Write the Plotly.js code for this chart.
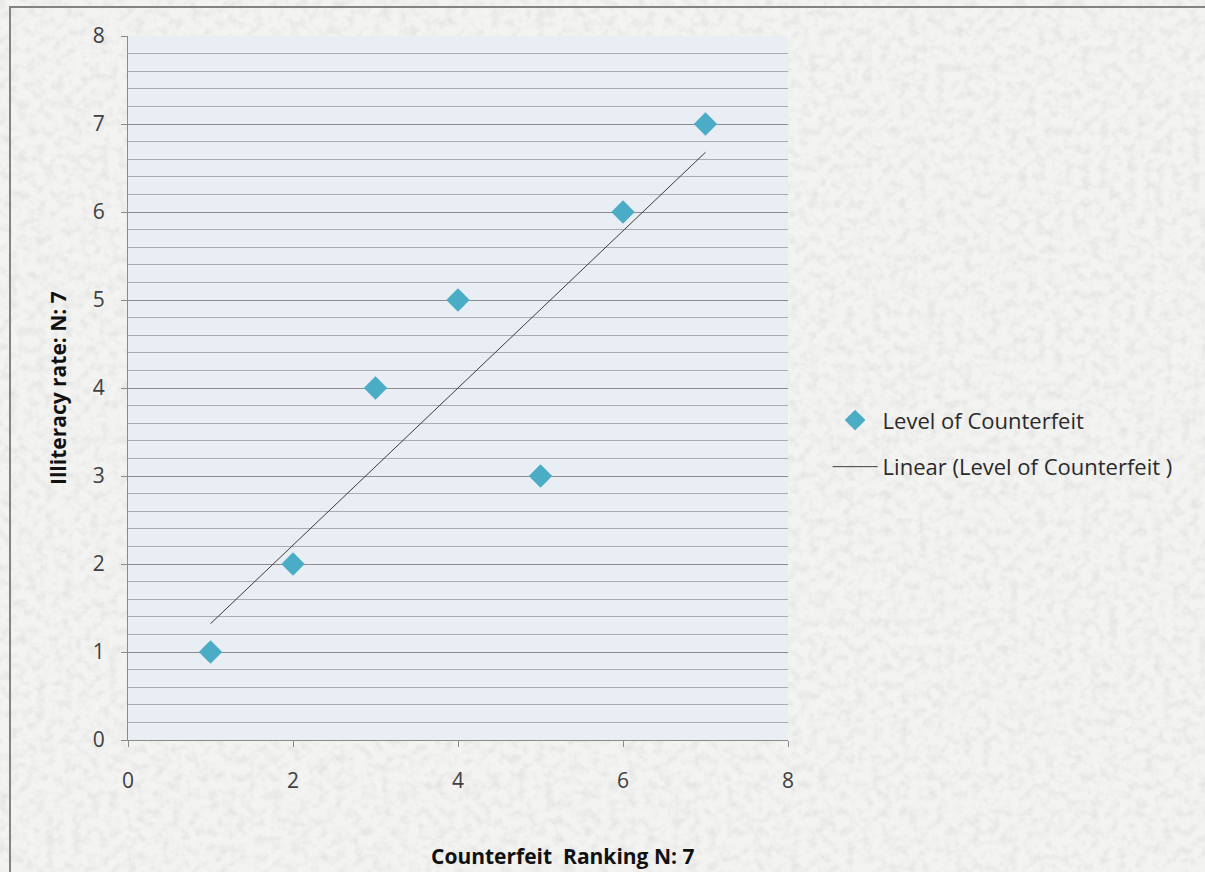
<!DOCTYPE html>
<html>
<head>
<meta charset="utf-8">
<script src="https://cdn.plot.ly/plotly-3.0.1.min.js"></script>
<style>
  html, body { margin: 0; padding: 0; width: 1205px; height: 872px; overflow: hidden; }
  #bg { position: absolute; left: 0; top: 0; width: 1205px; height: 872px; }
  #frame { position: absolute; left: 9px; top: 6px; width: 1300px; height: 1000px;
           border-left: 2px solid #838380; border-top: 2px solid #838380; box-sizing: border-box; }
  #chart { position: absolute; left: 0; top: 0; width: 1205px; height: 872px; }
</style>
</head>
<body>
<svg id="bg" xmlns="http://www.w3.org/2000/svg" width="1205" height="872">
  <filter id="grain" x="0" y="0" width="100%" height="100%">
    <feTurbulence type="fractalNoise" baseFrequency="0.11" numOctaves="3" seed="11" result="t"/>
    <feColorMatrix in="t" type="matrix"
      values="0 0 0 0 0.62  0 0 0 0 0.62  0 0 0 0 0.62  1.5 0 0 0 -0.62"/>
  </filter>
  <rect width="1205" height="872" fill="#f3f3f2"/>
  <rect width="1205" height="872" filter="url(#grain)" opacity="0.55"/>
</svg>
<div id="frame"></div>
<div id="chart"></div>
<script>
// Data
const counterfeitRanking = [1, 2, 3, 4, 5, 6, 7];
const illiteracyRate     = [1, 2, 4, 5, 3, 6, 7];
const seriesName = "Level of Counterfeit";
const trendName  = "Linear (Level of Counterfeit )";
const xTitle = "Counterfeit  Ranking N: 7";
const yTitle = "Illiteracy rate: N: 7";
const xTickVals  = [0, 2, 4, 6, 8];
const yTickVals  = [0, 1, 2, 3, 4, 5, 6, 7, 8];

// Least-squares linear trendline (as the spreadsheet's "Linear" trendline)
const n = counterfeitRanking.length;
const mx = counterfeitRanking.reduce((a, b) => a + b, 0) / n;
const my = illiteracyRate.reduce((a, b) => a + b, 0) / n;
let sxy = 0, sxx = 0;
for (let i = 0; i < n; i++) {
  sxy += (counterfeitRanking[i] - mx) * (illiteracyRate[i] - my);
  sxx += (counterfeitRanking[i] - mx) ** 2;
}
const slope = sxy / sxx, intercept = my - slope * mx;
const trendX = [Math.min(...counterfeitRanking), Math.max(...counterfeitRanking)];
const trendY = trendX.map(x => intercept + slope * x);

const traces = [
  {
    x: counterfeitRanking, y: illiteracyRate, type: "scatter", mode: "markers",
    name: seriesName, legendgroup: "a",
    marker: { symbol: "diamond", size: 18, color: "#4bacc6", line: { width: 0 } }
  },
  {
    x: trendX, y: trendY, type: "scatter", mode: "lines",
    name: trendName, legendgroup: "b",
    line: { color: "#3c3c3c", width: 1 }
  }
];

const font = "'Open Sans', 'DejaVu Sans', sans-serif";
const layout = {
  width: 1205, height: 872,
  paper_bgcolor: "rgba(0,0,0,0)",
  plot_bgcolor: "#e8eef3",
  margin: { l: 128, r: 417, t: 36, b: 132 },
  font: { family: font, color: "#404040", size: 21 },
  showlegend: true,
  legend: {
    x: 1.06, y: 0.484, xanchor: "left", yanchor: "top",
    bgcolor: "rgba(0,0,0,0)", font: { size: 22, color: "#2a2a2a", family: font },
    traceorder: "grouped", tracegroupgap: 15, itemwidth: 45
  },
  xaxis: {
    range: [0, 8], tickvals: xTickVals, ticktext: xTickVals.map(String),
    showgrid: false, zeroline: false,
    showline: true, linecolor: "#8a8a8a", linewidth: 1,
    ticks: "outside", ticklen: 6, tickcolor: "#8a8a8a", ticklabelstandoff: 16,
    tickfont: { size: 21, color: "#404040" },
    fixedrange: true
  },
  yaxis: {
    range: [0, 8], tickvals: yTickVals, ticktext: yTickVals.map(String),
    showgrid: true, gridcolor: "#8c8c8c", gridwidth: 1, zeroline: false,
    minor: { dtick: 0.2, showgrid: true, gridcolor: "#a9adb0", gridwidth: 1 },
    showline: true, linecolor: "#8a8a8a", linewidth: 1,
    ticks: "outside", ticklen: 6, tickcolor: "#8a8a8a", ticklabelstandoff: 12,
    tickfont: { size: 21, color: "#404040" },
    fixedrange: true
  },
  annotations: [
    { text: "<b>" + xTitle.replace("  ", "&nbsp; ") + "</b>", xref: "paper", yref: "paper",
      x: 0.659, y: -0.165, xanchor: "center", yanchor: "middle", showarrow: false,
      font: { size: 21, color: "#111111", family: font } },
    { text: "<b>" + yTitle + "</b>", xref: "paper", yref: "paper", textangle: -90,
      x: -0.106, y: 0.5, xanchor: "center", yanchor: "middle", showarrow: false,
      font: { size: 21, color: "#111111", family: font } }
  ]
};

Plotly.newPlot("chart", traces, layout, { displayModeBar: false, staticPlot: true });
</script>
</body>
</html>
